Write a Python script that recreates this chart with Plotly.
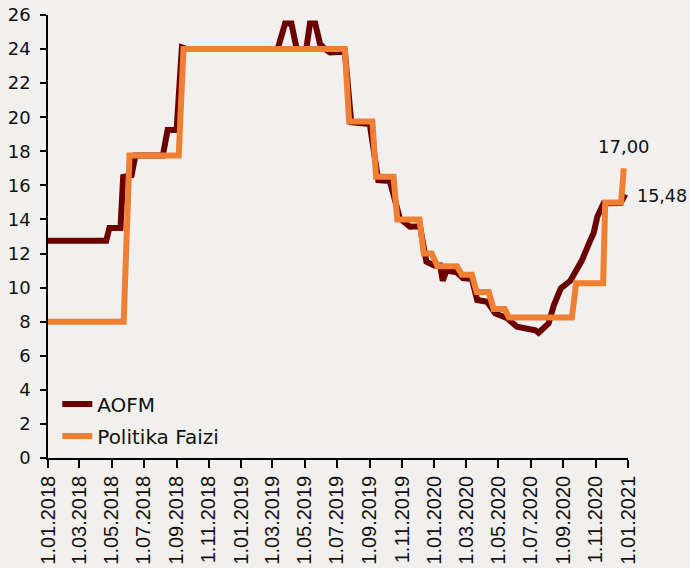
import plotly.graph_objects as go

# Politika Faizi (policy rate), %
policy_dates = [
    "2018-01-01", "2018-05-24", "2018-06-04", "2018-09-05", "2018-09-14",
    "2019-07-16", "2019-07-24", "2019-09-06", "2019-09-13", "2019-10-16",
    "2019-10-23", "2019-12-04", "2019-12-12", "2019-12-27", "2020-01-07",
    "2020-02-13", "2020-02-22", "2020-03-12", "2020-03-21", "2020-04-13",
    "2020-04-22", "2020-05-13", "2020-05-21", "2020-09-17", "2020-09-25",
    "2020-11-15", "2020-11-19", "2020-12-19", "2020-12-24",
]
policy_values = [
    8.00, 8.00, 17.75, 17.75, 24.00,
    24.00, 19.75, 19.75, 16.50, 16.50,
    14.00, 14.00, 12.00, 12.00, 11.25,
    11.25, 10.75, 10.75, 9.75, 9.75,
    8.75, 8.75, 8.25, 8.25, 10.25,
    10.25, 15.00, 15.00, 17.00,
]

# AOFM (weighted average cost of funding), %
aofm_dates = [
    "2018-01-01", "2018-04-21", "2018-04-27", "2018-05-18", "2018-05-23",
    "2018-06-08", "2018-06-15", "2018-08-06", "2018-08-15", "2018-09-01",
    "2018-09-11", "2018-09-20", "2019-03-11", "2019-03-25", "2019-04-06",
    "2019-04-16", "2019-05-04", "2019-05-11", "2019-05-21", "2019-05-30",
    "2019-06-09", "2019-06-18", "2019-07-16", "2019-07-28", "2019-09-01",
    "2019-09-17", "2019-10-09", "2019-10-28", "2019-11-16", "2019-12-05",
    "2019-12-17", "2020-01-01", "2020-01-12", "2020-01-17", "2020-01-24",
    "2020-02-12", "2020-02-24", "2020-03-12", "2020-03-22", "2020-04-10",
    "2020-04-25", "2020-05-18", "2020-06-05", "2020-07-10", "2020-07-16",
    "2020-08-04", "2020-08-14", "2020-08-27", "2020-09-14", "2020-10-06",
    "2020-10-22", "2020-10-28", "2020-11-04", "2020-11-10", "2020-11-16",
    "2020-12-18", "2020-12-27",
]
aofm_values = [
    12.75, 12.75, 13.50, 13.50, 16.50,
    16.60, 17.75, 17.75, 19.25, 19.25,
    24.10, 24.00, 24.00, 25.50, 25.50,
    24.00, 24.00, 25.50, 25.50, 24.30,
    24.00, 23.80, 23.85, 19.70, 19.60,
    16.30, 16.25, 14.05, 13.57, 13.60,
    11.52, 11.30, 11.30, 10.40, 11.00,
    10.90, 10.56, 10.50, 9.27, 9.17,
    8.49, 8.20, 7.70, 7.50, 7.35,
    7.90, 8.98, 9.96, 10.40, 11.60,
    12.79, 13.19, 14.16, 14.65, 14.95,
    14.97, 15.48,
]

tick_dates = [
    "2018-01-01", "2018-03-01", "2018-05-01", "2018-07-01", "2018-09-01",
    "2018-11-01", "2019-01-01", "2019-03-01", "2019-05-01", "2019-07-01",
    "2019-09-01", "2019-11-01", "2020-01-01", "2020-03-01", "2020-05-01",
    "2020-07-01", "2020-09-01", "2020-11-01", "2021-01-01",
]
tick_labels = [
    "1.01.2018", "1.03.2018", "1.05.2018", "1.07.2018", "1.09.2018",
    "1.11.2018", "1.01.2019", "1.03.2019", "1.05.2019", "1.07.2019",
    "1.09.2019", "1.11.2019", "1.01.2020", "1.03.2020", "1.05.2020",
    "1.07.2020", "1.09.2020", "1.11.2020", "1.01.2021",
]

DARK = "#6B0000"
ORANGE = "#EF7F33"
BG = "#F2F0EF"
TXT = "#111111"

fig = go.Figure()
fig.add_trace(go.Scatter(
    x=aofm_dates, y=aofm_values, name="AOFM", mode="lines",
    line=dict(color=DARK, width=6), legend="legend",
))
fig.add_trace(go.Scatter(
    x=policy_dates, y=policy_values, name="Politika Faizi", mode="lines",
    line=dict(color=ORANGE, width=6), legend="legend2",
))

fig.add_annotation(
    x=policy_dates[-1], y=policy_values[-1], text="17,00", showarrow=False,
    xanchor="center", yanchor="middle", yshift=22,
    font=dict(family="DejaVu Sans", size=18, color=TXT),
)
fig.add_annotation(
    x=aofm_dates[-1], y=aofm_values[-1], text="15,48", showarrow=False,
    xanchor="left", yanchor="middle", xshift=10, yshift=-2,
    font=dict(family="DejaVu Sans", size=17.5, color=TXT),
)

legend_common = dict(
    xanchor="left", yanchor="middle",
    bgcolor="rgba(0,0,0,0)",
    font=dict(family="DejaVu Sans", size=20, color=TXT),
)

fig.update_layout(
    template="none",
    width=690, height=568,
    margin=dict(l=48, r=62, t=15, b=110, autoexpand=False),
    paper_bgcolor=BG, plot_bgcolor=BG,
    showlegend=True,
    legend=dict(x=0.016, y=(458 - 404) / 443, **legend_common),
    legend2=dict(x=0.016, y=(458 - 436) / 443, **legend_common),
    xaxis=dict(
        type="date",
        range=["2018-01-01", "2021-01-01"],
        tickmode="array", tickvals=tick_dates, ticktext=tick_labels,
        tickangle=-90,
        ticks="outside", ticklen=8, tickwidth=1.5, tickcolor="black",
        showline=True, linecolor="black", linewidth=1.5,
        showgrid=False, zeroline=False, automargin=False,
        tickfont=dict(family="Liberation Sans", size=20, color=TXT),
    ),
    yaxis=dict(
        range=[0, 26], dtick=2, tick0=0,
        ticks="outside", ticklen=6, tickwidth=1.5, tickcolor="black",
        showline=True, linecolor="black", linewidth=1.5,
        showgrid=False, zeroline=False, automargin=False,
        ticklabelstandoff=6,
        tickfont=dict(family="DejaVu Sans", size=18, color=TXT),
    ),
)

fig.write_html(
    "out.html",
    config={"displayModeBar": False},
    post_script="document.body.style.margin='0';",
)
